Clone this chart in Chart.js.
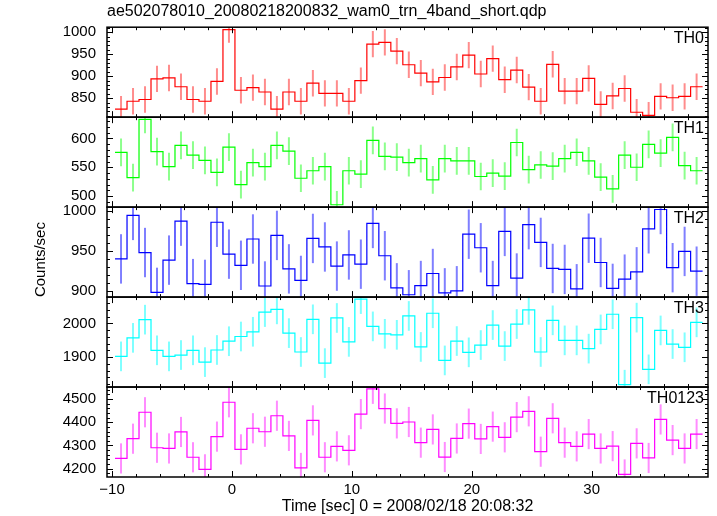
<!DOCTYPE html>
<html><head><meta charset="utf-8">
<script src="https://cdn.jsdelivr.net/npm/chart.js@4/dist/chart.umd.min.js"></script>
<style>html,body{margin:0;padding:0;background:#fff;}canvas{display:block;}</style>
</head><body>
<canvas id="c" width="717" height="516"></canvas>
<script>
const titleText = 'ae502078010_20080218200832_wam0_trn_4band_short.qdp';
const xTitle = 'Time [sec] 0 = 2008/02/18 20:08:32';
const yTitle = 'Counts/sec';
const binWidth = 1;
const times = [-9.25,-8.25,-7.25,-6.25,-5.25,-4.25,-3.25,-2.25,-1.25,-0.25,0.75,1.75,2.75,3.75,4.75,5.75,6.75,7.75,8.75,9.75,10.75,11.75,12.75,13.75,14.75,15.75,16.75,17.75,18.75,19.75,20.75,21.75,22.75,23.75,24.75,25.75,26.75,27.75,28.75,29.75,30.75,31.75,32.75,33.75,34.75,35.75,36.75,37.75,38.75];
const th0 = [825,843,847,894,896,876,847,843,888,1006,868,874,864,825,864,843,884,861,861,843,890,973,977,957,926,907,887,897,921,948,905,940,892,914,875,843,927,866,866,895,836,855,872,818,811,854,851,854,876];
const th1 = [575.7,532,633,577,551,588,571,562,541,585,520,558,551,588,578,531,544,551,485,544,538,596.5,569,567.5,558,565,528,565,561,561,534,540,534.5,593,546,554,552,565,576,561,533,512.5,571,550,589.6,574.5,602,553,544];
const th2 = [940,994.6,948,898,938.5,987.4,909,908,986,946,932,965,906,969.5,927.5,913,965.7,955,931,945,933.4,984.5,944,903.7,895,906.6,921.7,897.4,900,971,954,906.6,974.5,916,983,960.7,928,926.8,902.5,966,935.5,903,914.6,923.8,977.8,1002,929,949.4,924.6];
const th3 = [1902,1957,2011,1920,1902,1906,1920,1885,1921,1947,1961,1975,2033.5,2041.5,1971,1915,2012,1882,2016,1945,2072,1991,1969,1966,2022,1930,2030,1890,1947.5,1914,1935.6,1995,1932.6,1998,2040,1915,2009,1949.5,1949.5,1925,1982,2027,1818,2017,1863.5,1979,1938.6,1929,2003];
const th0123 = [4244,4329,4443,4290,4287,4358,4249,4197,4338,4486,4283,4374,4359,4428,4341,4203,4408,4249,4296,4279,4435,4544,4459,4395,4401,4312,4369,4250,4330,4394,4328,4381,4335,4422,4447,4273,4417,4312,4296,4349,4287,4297,4175,4309,4246,4412,4323,4287,4349];
const errors = [30, 24, 31, 44, 65];
const panelNames = ['TH0','TH1','TH2','TH3','TH0123'];
const yMins = [806.8, 480.9, 892.1, 1811, 4164];
const yMaxs = [1011.4, 636.9, 1005, 2078, 4551.6];
const yMinorSteps = [10, 10, 10, 20, 20];
const yMajorSteps = [50, 50, 50, 100, 100];
const xMin = -10.42, xMax = 39.7, xMinorStep = 2, xMajorStep = 10;

const series = [th0, th1, th2, th3, th0123];
const lineColors = ['#ff0000','#00ff00','#0000ff','#00ffff','#ff00ff'];
const errColors = ['rgba(255,0,0,0.45)','rgba(0,255,0,0.45)','rgba(0,0,255,0.5)','rgba(0,255,255,0.5)','rgba(255,0,255,0.45)'];

Chart.defaults.font.family = "'Liberation Sans', Arial, Helvetica, sans-serif";
Chart.defaults.font.size = 15;
Chart.defaults.color = '#000';

const datasets = [];
series.forEach((vals, p) => {
  const pts = times.map((t, i) => ({x: t - binWidth / 2, y: vals[i]}));
  pts.push({x: times[times.length - 1] + binWidth / 2, y: vals[vals.length - 1]});
  datasets.push({type: 'line', data: pts, xAxisID: 'x', yAxisID: 'y' + p, stepped: 'before',
    borderColor: lineColors[p], borderWidth: 1.2, pointRadius: 0, fill: false, clip: 0, order: 0});
  datasets.push({type: 'bar', data: times.map((t, i) => ({x: t, y: [vals[i] - errors[p], vals[i] + errors[p]]})),
    xAxisID: 'x', yAxisID: 'y' + p, backgroundColor: errColors[p], borderWidth: 0, barThickness: 2,
    inflateAmount: 0, grouped: false, clip: 0, order: 1});
});

const isMult = (v, m) => Math.abs(v / m - Math.round(v / m)) < 1e-6;

const scales = {
  x: {type: 'linear', position: 'bottom', min: xMin, max: xMax, offset: false,
    grid: {display: false, drawTicks: false}, border: {display: false},
    ticks: {stepSize: xMinorStep, autoSkip: false, includeBounds: false, maxRotation: 0, padding: 4,
      callback: v => { if (!isMult(v, xMajorStep)) return ''; const r = Math.round(v); return r < 0 ? '\u2212' + (-r) : String(r); }},
    title: {display: true, text: xTitle, font: {size: 16}, padding: {top: 0, bottom: 0}},
    afterFit: s => { s.height = 39; }
  }
};
for (let p = series.length - 1; p >= 0; p--) {
  scales['y' + p] = {type: 'linear', position: 'left', stack: 'panels', stackWeight: 1, stacked: false,
    min: yMins[p], max: yMaxs[p], offset: false,
    grid: {display: false, drawTicks: false}, border: {display: false},
    ticks: {stepSize: yMinorSteps[p], autoSkip: false, includeBounds: false, padding: 11,
      callback: v => isMult(v, yMajorSteps[p]) ? String(Math.round(v)) : ''},
    title: p === 2 ? {display: true, text: yTitle, align: 'start', padding: {top: 32, bottom: 0}} : {display: false},
    afterFit: s => { s.width = 107; }
  };
}

const framePlugin = {
  id: 'frame',
  afterDatasetsDraw(chart) {
    const ctx = chart.ctx, xs = chart.scales.x;
    const seg = (a, b, c, d) => { ctx.beginPath(); ctx.moveTo(a, b); ctx.lineTo(c, d); ctx.stroke(); };
    ctx.save();
    ctx.strokeStyle = '#000';
    panelNames.forEach((name, p) => {
      const ys = chart.scales['y' + p];
      const L = xs.left, R = xs.right, T = ys.top, B = ys.bottom;
      ctx.lineWidth = 1;
      ys.ticks.forEach(t => {
        const y = Math.round(ys.getPixelForValue(t.value)) + 0.5;
        const len = t.label ? 6 : 3;
        seg(L, y, L + len, y); seg(R - len, y, R, y);
      });
      xs.ticks.forEach(t => {
        const x = Math.round(xs.getPixelForValue(t.value)) + 0.5;
        const len = t.label ? 6 : 3;
        seg(x, T, x, T + len); seg(x, B - len, x, B);
      });
      ctx.lineWidth = 1.5;
      ctx.strokeRect(L, T, R - L, B - T);
      ctx.fillStyle = '#000';
      ctx.font = "16px 'Liberation Sans', Arial, sans-serif";
      ctx.textAlign = 'right';
      ctx.textBaseline = 'alphabetic';
      ctx.fillText(name, R - 4, T + 16);
    });
    ctx.restore();
  }
};

new Chart(document.getElementById('c'), {
  type: 'line',
  data: {datasets},
  options: {
    responsive: false, animation: false, events: [],
    layout: {padding: {left: 0, right: 9, top: 0, bottom: 0}},
    plugins: {
      legend: {display: false}, tooltip: {enabled: false},
      title: {display: true, text: titleText, align: 'start', fullSize: false,
        font: {size: 16, weight: 'normal'}, padding: {top: 2, bottom: 6}}
    },
    scales
  },
  plugins: [framePlugin]
});
</script>
</body></html>
